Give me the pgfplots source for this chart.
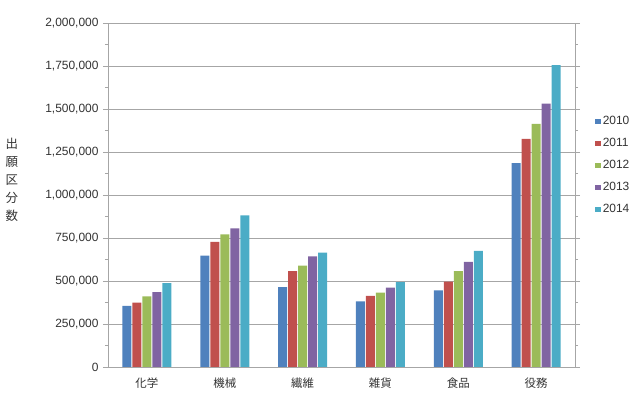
\documentclass[border=0pt]{standalone}
\usepackage{pgfplots}
\pgfplotsset{compat=1.18}
\usepackage{fontspec}
\setmainfont{Liberation Sans}
\newfontfamily\cjk{Noto Sans CJK JP}
\definecolor{c1}{HTML}{4F81BD}
\definecolor{c2}{HTML}{C0504D}
\definecolor{c3}{HTML}{9BBB59}
\definecolor{c4}{HTML}{8064A2}
\definecolor{c5}{HTML}{4BACC6}
\definecolor{gridc}{HTML}{A6A6A6}
\begin{document}
\begin{tikzpicture}
\path[use as bounding box] (0,0) rectangle (642bp,415bp);
\begin{axis}[
  at={(108bp,48bp)}, anchor=south west,
  scale only axis, width=467bp, height=344bp,
  ybar=1bp, bar width=9bp,
  xmin=-0.5, xmax=5.5, ymin=0, ymax=2000000,
  xtick={0,1,2,3,4,5},
  xticklabels={化学,機械,繊維,雑貨,食品,役務},
  x tick style={draw=none},
  ytick={0,250000,...,2000000},
  minor y tick num=1,
  scaled y ticks=false,
  yticklabel style={/pgf/number format/fixed, /pgf/number format/1000 sep={,}, /pgf/number format/assume math mode=true},
  tick label style={font=\fontsize{12}{14}\selectfont, text=black!80},
  xticklabel style={font=\cjk\fontsize{11.5}{14}\selectfont, yshift=-2bp},
  yticklabel style={xshift=-1bp},
  tick align=outside,
  major tick length=5bp, minor tick length=3bp,
  y tick style={gridc, line width=0.8bp},
  ymajorgrids, grid style={gridc, line width=0.8bp},
  axis line style={gridc, line width=0.8bp},
  ylabel={出\\願\\区\\分\\数},
  y label style={at={(axis description cs:-0.206,0.544)}, rotate=-90, anchor=center, align=center, font=\cjk\fontsize{12.5}{18}\selectfont, text=black!80},
  legend style={at={(axis description cs:1.043,0.735)}, anchor=north west, draw=none, fill=none,
    font=\fontsize{12}{14}\selectfont, text=black!80, row sep=8.2bp, inner sep=0pt,
    legend cell align=left},
  legend image code/.code={\fill[#1,draw=none] (0bp,-2.6bp) rectangle (5.5bp,2.6bp);},
]
\addplot[fill=c1, draw=none] coordinates {(0,355000) (1,648000) (2,465000) (3,381000) (4,445000) (5,1185000)};
\addplot[fill=c2, draw=none] coordinates {(0,374000) (1,727000) (2,558000) (3,414000) (4,496000) (5,1327000)};
\addplot[fill=c3, draw=none] coordinates {(0,411000) (1,771000) (2,589000) (3,432000) (4,558000) (5,1414000)};
\addplot[fill=c4, draw=none] coordinates {(0,436000) (1,806000) (2,643000) (3,461000) (4,611000) (5,1531000)};
\addplot[fill=c5, draw=none] coordinates {(0,487000) (1,882000) (2,665000) (3,494000) (4,675000) (5,1755000)};
\legend{2010,2011,2012,2013,2014}
\end{axis}
\end{tikzpicture}
\end{document}
